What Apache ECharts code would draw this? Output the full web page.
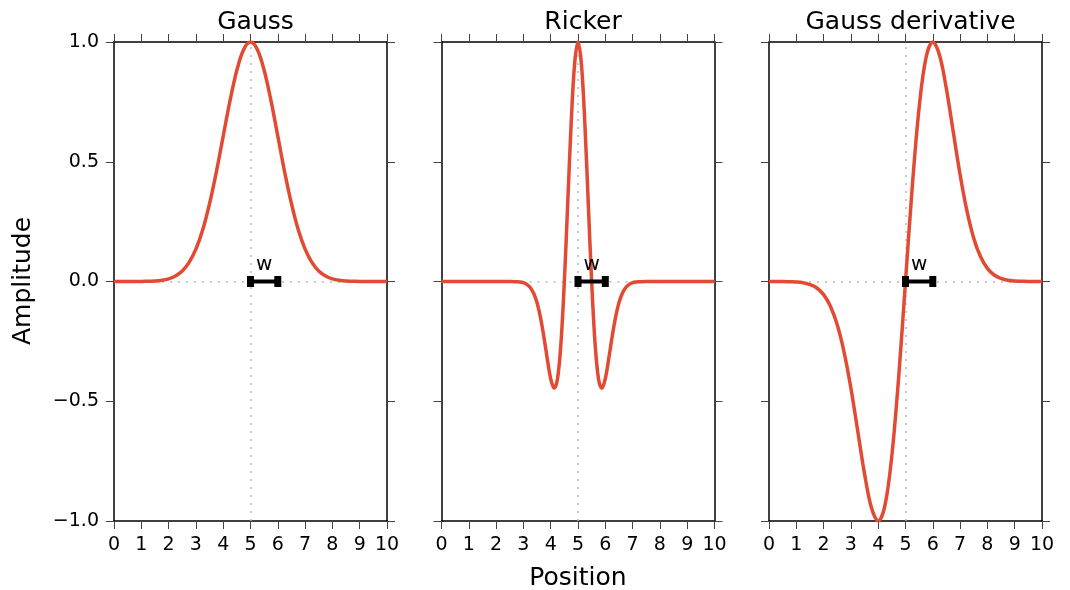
<!DOCTYPE html>
<html>
<head>
<meta charset="utf-8">
<script src="https://cdn.jsdelivr.net/npm/echarts@6/dist/echarts.min.js"></script>
<style>
  html, body { margin: 0; padding: 0; background: #fff; }
  #chart { width: 1070px; height: 590px; }
</style>
</head>
<body>
<div id="chart"></div>
<script>
// 各面板的数据
const titles = ["Gauss", "Ricker", "Gauss derivative"];

const xGauss = [0, 0.25, 0.5, 0.75, 1, 1.25, 1.5, 1.75, 2, 2.25, 2.5, 2.75, 3, 3.25, 3.5, 3.75,
  4, 4.25, 4.5, 4.75, 5, 5.25, 5.5, 5.75, 6, 6.25, 6.5, 6.75, 7, 7.25, 7.5, 7.75,
  8, 8.25, 8.5, 8.75, 9, 9.25, 9.5, 9.75, 10];
const yGauss = [0, 0, 0, 0, 0, 0.001, 0.002, 0.005, 0.011, 0.023, 0.044, 0.080, 0.135, 0.216, 0.325, 0.458,
  0.607, 0.755, 0.882, 0.969, 1, 0.969, 0.882, 0.755, 0.607, 0.458, 0.325, 0.216, 0.135, 0.080, 0.044, 0.023,
  0.011, 0.005, 0.002, 0.001, 0, 0, 0, 0, 0];

const xRicker = [0, 0.5, 1, 1.5, 2, 2.5, 2.75, 2.875, 3, 3.125, 3.25, 3.375, 3.5, 3.625, 3.75, 3.875,
  4, 4.125, 4.25, 4.375, 4.5, 4.625, 4.75, 4.875, 5, 5.125, 5.25, 5.375, 5.5, 5.625, 5.75, 5.875,
  6, 6.125, 6.25, 6.375, 6.5, 6.625, 6.75, 6.875, 7, 7.125, 7.25, 7.5, 8, 8.5, 9, 9.5, 10];
const yRicker = [0, 0, 0, 0, 0, 0, -0.001, -0.002, -0.005, -0.012, -0.025, -0.049, -0.089, -0.150, -0.231, -0.323,
  -0.406, -0.446, -0.406, -0.258, 0, 0.330, 0.662, 0.908, 1, 0.908, 0.662, 0.330, 0, -0.258, -0.406, -0.446,
  -0.406, -0.323, -0.231, -0.150, -0.089, -0.049, -0.025, -0.012, -0.005, -0.002, -0.001, 0, 0, 0, 0, 0, 0];

const xDeriv = xGauss;
const yDeriv = [0, 0, 0, -0.001, -0.002, -0.005, -0.013, -0.027, -0.055, -0.103, -0.181, -0.295, -0.446, -0.624, -0.803, -0.944,
  -1, -0.934, -0.727, -0.399, 0, 0.399, 0.727, 0.934, 1, 0.944, 0.803, 0.624, 0.446, 0.295, 0.181, 0.103,
  0.055, 0.027, 0.013, 0.005, 0.002, 0.001, 0, 0, 0];

// 宽度标记 w：从中心 5 到 6
const widthBar = [[5, 0], [6, 0]];
const widthLabelPos = [5.5, 0];
const centerX = 5;

const curves = [
  [xGauss, yGauss],
  [xRicker, yRicker],
  [xDeriv, yDeriv],
];

const FONT = "DejaVu Sans";
const RED = "#E24A33";
const panelLeft = [114, 441.5, 769];
const panelWidth = 273;
const panelTop = 42;
const panelHeight = 479;

const fmtY = (v) => (v < 0 ? "\u2212" : "") + Math.abs(v).toFixed(1);

const grid = [], xAxis = [], yAxis = [], series = [], title = [];

panelLeft.forEach((left, i) => {
  grid.push({ left: left, top: panelTop, width: panelWidth, height: panelHeight });
  title.push({
    text: titles[i],
    left: left + panelWidth / 2,
    textAlign: "center",
    top: 5,
    textStyle: { fontFamily: FONT, fontSize: 25, fontWeight: "normal", color: "#000" },
  });

  ["bottom", "top"].forEach((pos) => {
    xAxis.push({
      type: "value",
      gridIndex: i,
      position: pos,
      min: 0,
      max: 10,
      interval: 1,
      axisLine: { show: true, onZero: false, lineStyle: { color: "#000", width: 1.5 } },
      axisTick: { show: true, inside: false, length: 8, lineStyle: { color: "#444", width: 1 } },
      axisLabel: {
        show: pos === "bottom",
        fontFamily: FONT,
        fontSize: 19,
        color: "#000",
        margin: 15,
      },
      splitLine: { show: false },
    });
  });

  ["left", "right"].forEach((pos) => {
    yAxis.push({
      type: "value",
      gridIndex: i,
      position: pos,
      min: -1,
      max: 1,
      interval: 0.5,
      axisLine: { show: true, onZero: false, lineStyle: { color: "#000", width: 1.5 } },
      axisTick: { show: true, inside: false, length: 8, lineStyle: { color: "#444", width: 1 } },
      axisLabel: {
        show: pos === "left" && i === 0,
        fontFamily: FONT,
        fontSize: 19,
        color: "#000",
        margin: 15,
        formatter: fmtY,
      },
      splitLine: { show: false },
    });
  });

  const xa = i * 2, ya = i * 2;

  // 灰色点线参考线
  series.push({
    type: "line",
    xAxisIndex: xa,
    yAxisIndex: ya,
    data: [],
    z: 1,
    silent: true,
    markLine: {
      z: 1,
      silent: true,
      symbol: ["none", "none"],
      label: { show: false },
      lineStyle: { color: "#bbbbbb", type: [2, 6], width: 1.5 },
      data: [{ xAxis: centerX }, { yAxis: 0 }],
    },
  });

  // 小波曲线
  const [xs, ys] = curves[i];
  series.push({
    type: "line",
    xAxisIndex: xa,
    yAxisIndex: ya,
    data: xs.map((x, k) => [x, ys[k]]),
    showSymbol: false,
    smooth: 0.35,
    z: 3,
    lineStyle: { color: RED, width: 3.5 },
  });

  // w 标记
  series.push({
    type: "line",
    xAxisIndex: xa,
    yAxisIndex: ya,
    data: widthBar,
    showSymbol: true,
    symbol: "rect",
    symbolSize: [7, 11],
    z: 4,
    itemStyle: { color: "#000", borderWidth: 0 },
    lineStyle: { color: "#000", width: 4 },
  });
  series.push({
    type: "scatter",
    xAxisIndex: xa,
    yAxisIndex: ya,
    data: [widthLabelPos],
    symbolSize: 0,
    z: 5,
    itemStyle: { opacity: 1 },
    label: {
      show: true,
      formatter: "w",
      position: "top",
      distance: 7,
      fontFamily: FONT,
      fontSize: 20,
      color: "#000",
      opacity: 1,
    },
  });
});

const chart = echarts.init(document.getElementById("chart"));
chart.setOption({
  animation: false,
  backgroundColor: "#fff",
  title: title,
  grid: grid,
  xAxis: xAxis,
  yAxis: yAxis,
  series: series,
  graphic: [
    {
      type: "text",
      x: 23,
      y: 281,
      rotation: Math.PI / 2,
      style: { text: "Amplitude", font: "25px 'DejaVu Sans'", fill: "#000", align: "center", verticalAlign: "middle" },
    },
    {
      type: "text",
      x: 578,
      y: 578,
      style: { text: "Position", font: "25px 'DejaVu Sans'", fill: "#000", align: "center", verticalAlign: "middle" },
    },
  ],
});
</script>
</body>
</html>
